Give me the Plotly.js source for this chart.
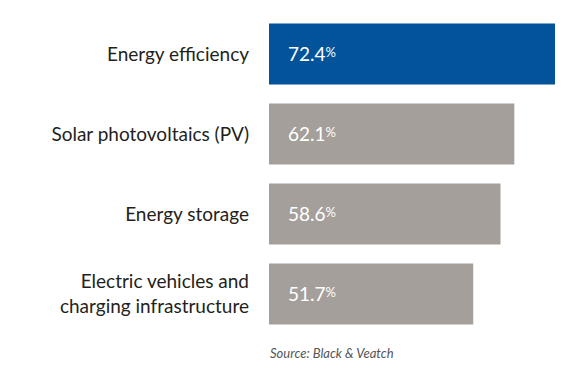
<!DOCTYPE html>
<html>
<head>
<meta charset="utf-8">
<script src="https://cdn.plot.ly/plotly-3.0.1.min.js"></script>
<style>html,body{margin:0;padding:0;background:#fff;}#chart{width:576px;height:379px;}</style>
</head>
<body>
<div id="chart"></div>
<script>
const categories = ["Energy efficiency", "Solar photovoltaics (PV)", "Energy storage", "Electric vehicles and<br>charging infrastructure"];
const values = [72.4, 62.1, 58.6, 51.7];
const colors = ["#02539a", "#a59f9b", "#a59f9b", "#a59f9b"];
const sourceText = "Source: Black & Veatch";

const trace = {
  type: "bar",
  orientation: "h",
  y: categories,
  x: values,
  marker: {color: colors, line: {width: 0}},
  hoverinfo: "none"
};

const annotations = categories.map((c, i) => ({
  xref: "x", yref: "y", x: 0, y: c,
  xanchor: "left", yanchor: "middle", xshift: 17, yshift: 1,
  text: values[i].toFixed(1) + "<span style='font-size:13px;baseline-shift:4px'>%</span>",
  showarrow: false,
  font: {family: "Lato, sans-serif", size: 19, color: "#ffffff"}
}));
annotations.push({
  xref: "paper", yref: "paper", x: 0, y: 0, xanchor: "left", yanchor: "top",
  xshift: -1, yshift: -9,
  text: "<i>" + sourceText + "</i>", showarrow: false,
  font: {family: "Lato, sans-serif", size: 13, color: "#555555"}
});

const layout = {
  width: 576, height: 379,
  margin: {l: 269, r: 21, t: 14, b: 45},
  paper_bgcolor: "#ffffff", plot_bgcolor: "#ffffff",
  bargap: 0.24,
  showlegend: false,
  xaxis: {range: [0, 72.4], visible: false, fixedrange: true},
  yaxis: {
    autorange: "reversed", showgrid: false, zeroline: false, showline: false,
    ticks: "", ticklabelstandoff: 19,
    tickfont: {family: "Lato, sans-serif", size: 19, color: "#231f20"}
  },
  annotations: annotations
};

Plotly.newPlot("chart", [trace], layout, {displayModeBar: false, staticPlot: true});
</script>
</body>
</html>
